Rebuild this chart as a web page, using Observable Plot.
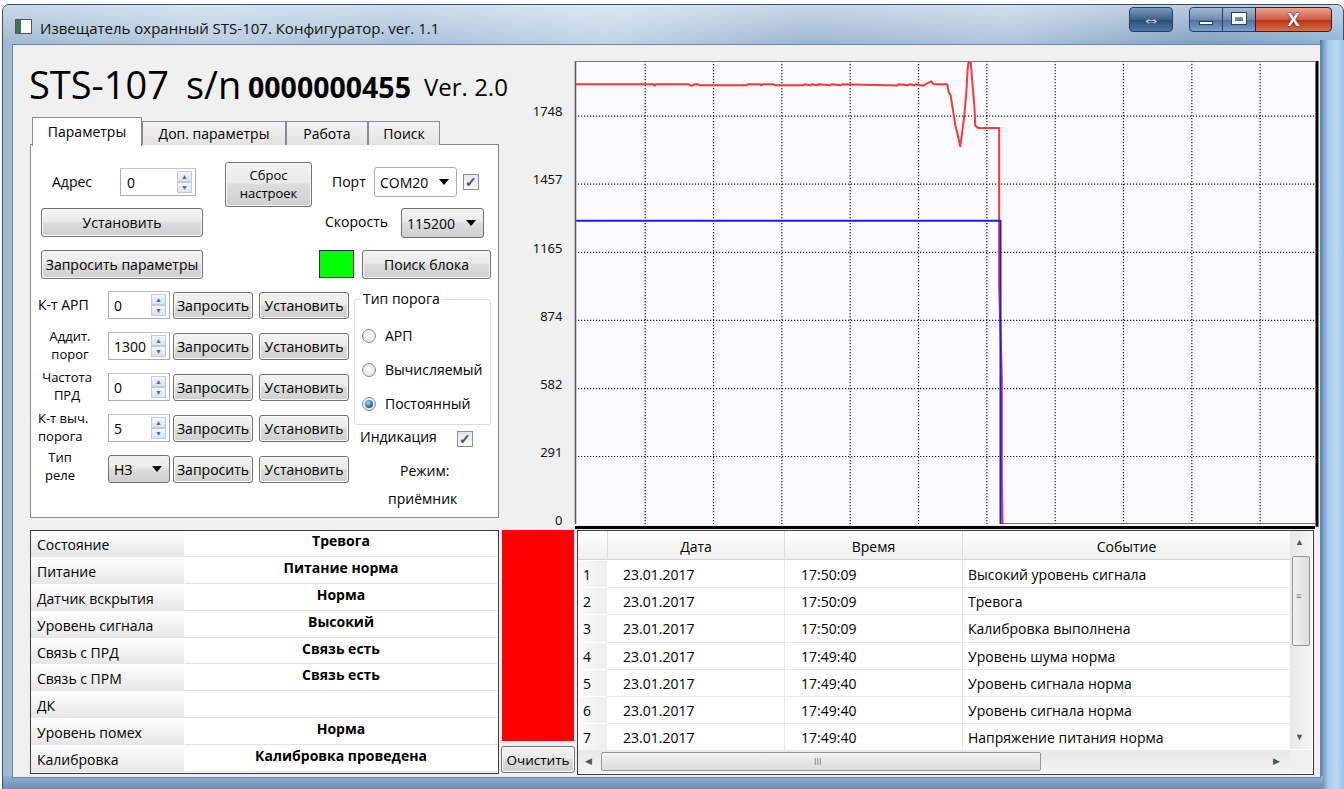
<!DOCTYPE html>
<html><head><meta charset="utf-8">
<script src="https://cdn.jsdelivr.net/npm/d3@7"></script>
<script src="https://cdn.jsdelivr.net/npm/@observablehq/plot@0.6"></script>
<style>
html,body{margin:0;padding:0;width:1344px;height:789px;overflow:hidden;background:#fff;font-family:"Open Sans","Noto Sans",sans-serif;font-size:14px;color:#000}
.a{position:absolute;box-sizing:border-box}
.t{position:absolute;white-space:nowrap;line-height:16px}
.btn{position:absolute;box-sizing:border-box;border:1px solid #707070;border-radius:3px;background:linear-gradient(#f2f2f2 0,#ebebeb 45%,#dddddd 50%,#cfcfcf 100%);box-shadow:inset 0 0 0 1px #fbfbfb;display:flex;align-items:center;justify-content:center;text-align:center;line-height:16px;white-space:nowrap;font-size:14px}
.spin{position:absolute;box-sizing:border-box;background:#fff;border:1px solid #abadb3;border-top-color:#c3c3c3;display:flex;align-items:center;padding-left:6px}
.spin .ar{position:absolute;right:3px;top:2px;bottom:2px;width:15px;display:flex;flex-direction:column}
.spin .ar div{flex:1;border:1px solid #c4cbd4;background:linear-gradient(#f4f6f9,#dde3ea);font-size:7px;color:#4a6ea8;display:flex;align-items:center;justify-content:center;line-height:7px}
.combo{position:absolute;box-sizing:border-box;border:1px solid #707070;border-radius:3px;background:linear-gradient(#f2f2f2 0,#ebebeb 45%,#dddddd 50%,#cfcfcf 100%);display:flex;align-items:center;padding-left:5px}
.combo.white{background:#fff;border-color:#abadb3}
.combo .dd{position:absolute;right:7px;top:50%;margin-top:-3px;width:0;height:0;border-left:5px solid transparent;border-right:5px solid transparent;border-top:6px solid #000}
.chk{position:absolute;box-sizing:border-box;width:16px;height:16px;border:1px solid #8e8f8f;background:linear-gradient(#e6e6e6,#fafafa);font-size:14px;line-height:13px;color:#3a5496;text-align:center;font-weight:bold}
.rad{position:absolute;box-sizing:border-box;width:14px;height:14px;border-radius:50%;border:1px solid #8e8f8f;background:radial-gradient(circle at 50% 40%,#fff,#d6d6d6)}
.rad.on::after{content:"";position:absolute;left:2px;top:2px;width:8px;height:8px;border-radius:50%;background:radial-gradient(circle at 40% 35%,#9fd8ff,#0b5d9c 70%)}
.tab{position:absolute;box-sizing:border-box;border:1px solid #898c95;border-bottom:none;background:linear-gradient(#f3f3f3,#e3e3e3);display:flex;align-items:center;justify-content:center;font-size:14px}
.cell{position:absolute;box-sizing:border-box;white-space:nowrap;overflow:hidden}
.sb{position:absolute;box-sizing:border-box;background:linear-gradient(90deg,#e8e8e8,#f4f4f4)}
.thumb{position:absolute;box-sizing:border-box;border:1px solid #979797;border-radius:2px;background:linear-gradient(90deg,#f2f2f2,#dcdcdc)}
.pl{position:absolute;white-space:nowrap;font-size:13px;line-height:17px}
</style></head>
<body>
<script>
// ===== chart data =====
const yTickLabels = [0, 291, 582, 874, 1165, 1457, 1748];
const gridXTicks = [100, 200, 300, 400, 500, 600, 700, 800, 900, 1000];
const redIdx = [0, 112, 114, 116, 164, 166, 170, 172, 178, 179, 249, 250, 268, 270, 272, 288, 289, 332, 333, 342, 344, 352, 354, 371, 373, 386, 388, 469, 471, 485, 487, 494, 496, 507, 510, 519, 522, 542, 544, 547, 550, 554, 557, 561, 564, 567, 570, 572, 575, 577, 580, 582, 583, 588, 618, 618, 622, 622, 623, 1081];
const redVal = [1885, 1885, 1878, 1885, 1885, 1879, 1879, 1885, 1885, 1880, 1880, 1885, 1885, 1879, 1885, 1885, 1880, 1880, 1885, 1880, 1885, 1880, 1885, 1880, 1885, 1880, 1885, 1879, 1885, 1880, 1885, 1880, 1885, 1878, 1885, 1897, 1885, 1885, 1851, 1837, 1781, 1708, 1674, 1619, 1679, 1751, 1851, 1952, 2010, 1958, 1851, 1781, 1708, 1697, 1697, 1018, 624, 182, 0, 0];
const blueIdx = [0, 620, 620, 1081];
const blueVal = [1300, 1300, 0, 0];

// ===== UI data =====
const statusLabels = ["Состояние", "Питание", "Датчик вскрытия", "Уровень сигнала", "Связь с ПРД", "Связь с ПРМ", "ДК", "Уровень помех", "Калибровка"];
const statusValues = ["Тревога", "Питание норма", "Норма", "Высокий", "Связь есть", "Связь есть", "", "Норма", "Калибровка проведена"];
const eventHeaders = ["Дата", "Время", "Событие"];
const eventDates = ["23.01.2017", "23.01.2017", "23.01.2017", "23.01.2017", "23.01.2017", "23.01.2017", "23.01.2017"];
const eventTimes = ["17:50:09", "17:50:09", "17:50:09", "17:49:40", "17:49:40", "17:49:40", "17:49:40"];
const eventTexts = ["Высокий уровень сигнала", "Тревога", "Калибровка выполнена", "Уровень шума норма", "Уровень сигнала норма", "Уровень сигнала норма", "Напряжение питания норма"];
const paramLabels = [["К-т АРП"], ["Аддит.", "порог"], ["Частота", "ПРД"], ["К-т выч.", "порога"], ["Тип", "реле"]];
const paramValues = ["0", "1300", "0", "5", "НЗ"];
const radioLabels = ["АРП", "Вычисляемый", "Постоянный"];
</script>

<!-- window frame -->
<div class="a" style="left:2px;top:4px;width:1342px;height:785px;border-radius:7px 7px 0 0;border:1px solid #34506e;background:linear-gradient(90deg,#9fb9d3 0,#b8cde2 15%,#a7c0da 30%,#c2d4e6 45%,#9cb6d1 60%,#aec5dd 75%,#7f9fc2 90%,#93b4d6 100%)"></div>
<div class="a" style="left:3px;top:5px;width:1340px;height:36px;border-radius:6px 6px 0 0;background:linear-gradient(180deg,rgba(255,255,255,0.45),rgba(255,255,255,0.05))"></div>
<div class="a" style="left:1320px;top:40px;width:24px;height:749px;background:linear-gradient(90deg,#4a6b92 0,#6f93bd 10%,#a9cdf0 35%,#bcd9f5 70%,#9cc0e6 100%)"></div>
<div class="a" style="left:3px;top:776px;width:1320px;height:13px;background:linear-gradient(180deg,#8fb0d2,#6d8fb6)"></div>
<!-- title -->
<div class="a" style="left:15px;top:19px;width:17px;height:15px;border:1px solid #555;background:linear-gradient(90deg,#3a7a4a 0,#3a7a4a 35%,#fff 36%)"></div>
<div class="t" style="left:40px;top:19px;font-size:15px;line-height:18px;color:#111">Извещатель охранный STS-107. Конфигуратор. ver. 1.1</div>
<div class="a" style="left:1129px;top:7px;width:44px;height:25px;border:1px solid #2b3f5c;border-radius:4px;background:linear-gradient(#7c98bd,#3f5f8a 50%,#2a4a78 51%,#4d77a8);color:#fff;font-size:18px;line-height:22px;text-align:center;font-weight:bold">⇔</div>
<div class="a" style="left:1189px;top:7px;width:34px;height:25px;border:1px solid #2b3f5c;border-radius:4px 0 0 4px;background:linear-gradient(#a5bbd6,#6d8cb3 50%,#4d6f9c 51%,#7aa0cc)"></div>
<div class="a" style="left:1199px;top:21px;width:14px;height:4px;background:#fff;border:1px solid #2b3f5c"></div>
<div class="a" style="left:1222px;top:7px;width:34px;height:25px;border:1px solid #2b3f5c;background:linear-gradient(#a5bbd6,#6d8cb3 50%,#4d6f9c 51%,#7aa0cc)"></div>
<div class="a" style="left:1232px;top:13px;width:14px;height:11px;border:3px solid #fff;border-top-width:4px;outline:1px solid #2b3f5c"></div>
<div class="a" style="left:1255px;top:7px;width:77px;height:25px;border:1px solid #4a1a10;border-radius:0 4px 4px 0;background:linear-gradient(#e8a493,#cf5d43 50%,#b8311b 51%,#d6703f);color:#fff;font-size:18px;line-height:22px;text-align:center;font-weight:bold;text-shadow:0 0 2px #400">X</div>

<!-- client area -->
<div class="a" style="left:12px;top:44px;width:1309px;height:734px;background:#f0f0f0;border:1px solid #6b84a3"></div>

<!-- big title -->
<div class="t" style="left:29px;top:60px;font-size:38px;line-height:48px">STS-107</div>
<div class="t" style="left:186px;top:60px;font-size:38px;line-height:48px">s/n</div>
<div class="t" style="left:248px;top:68px;font-size:28.5px;line-height:38px;font-weight:bold">0000000455</div>
<div class="t" style="left:424px;top:69px;font-size:24px;line-height:36px">Ver. 2.0</div>

<!-- tabs -->
<div class="a" style="left:30px;top:144px;width:469px;height:374px;background:#fff;border:1px solid #898c95"></div>
<div class="tab" style="left:142px;top:121px;width:144px;height:24px">Доп. параметры</div>
<div class="tab" style="left:286px;top:121px;width:82px;height:24px">Работа</div>
<div class="tab" style="left:368px;top:121px;width:72px;height:24px">Поиск</div>
<div class="tab" style="left:32px;top:117px;width:110px;height:29px;background:#fff;z-index:2;align-items:flex-start;padding-top:4px">Параметры</div>

<!-- top controls -->
<div class="t" style="left:52px;top:174px">Адрес</div>
<div class="spin" style="left:120px;top:168px;width:76px;height:28px">0<div class="ar"><div>▲</div><div>▼</div></div></div>
<div class="btn" style="left:225px;top:162px;width:87px;height:45px"></div>
<div class="pl" style="left:225px;top:167px;width:87px;text-align:center">Сброс</div>
<div class="pl" style="left:225px;top:185px;width:87px;text-align:center">настроек</div>
<div class="t" style="left:332px;top:174px">Порт</div>
<div class="combo white" style="left:374px;top:167px;width:83px;height:30px">COM20<div class="dd"></div></div>
<div class="chk" style="left:463px;top:174px">✓</div>
<div class="btn" style="left:41px;top:208px;width:162px;height:29px">Установить</div>
<div class="t" style="left:325px;top:214px">Скорость</div>
<div class="combo" style="left:401px;top:208px;width:83px;height:30px">115200<div class="dd"></div></div>
<div class="btn" style="left:41px;top:250px;width:162px;height:29px">Запросить параметры</div>
<div class="a" style="left:319px;top:250px;width:35px;height:28px;background:#00ff00;border:1px solid #333"></div>
<div class="btn" style="left:362px;top:250px;width:129px;height:29px">Поиск блока</div>

<!-- group box -->
<div class="a" style="left:354px;top:299px;width:137px;height:126px;border:1px solid #d5dfe5;border-radius:3px"></div>
<div class="t" style="left:361px;top:291px;background:#fff;padding:0 2px">Тип порога</div>
<div id="radios"></div>
<div class="t" style="left:360px;top:429px">Индикация</div>
<div class="chk" style="left:457px;top:431px">✓</div>
<div class="t" style="left:400px;top:463px">Режим:</div>
<div class="t" style="left:388px;top:491px">приёмник</div>

<div id="params"></div>

<!-- status table -->
<div class="a" style="left:30px;top:530px;width:469px;height:244px;border:1px solid #3b3b3b;background:#fff"></div>
<div id="status"></div>

<!-- red indicator + clear -->
<div class="a" style="left:502px;top:530px;width:72px;height:211px;background:#ff0000"></div>
<div class="btn" style="left:501px;top:746px;width:74px;height:27px;font-size:13.5px">Очистить</div>

<!-- events table -->
<div class="a" style="left:577px;top:530px;width:737px;height:245px;border:1px solid #3b3b3b;background:#fff"></div>
<div id="events"></div>

<!-- chart -->
<div id="chart" class="a" style="left:520px;top:50px;width:800px;height:480px"></div>

<script>
// radios
const rg = document.getElementById("radios");
radioLabels.forEach((r, i) => {
  const y = 336 + i * 34;
  rg.insertAdjacentHTML("beforeend", `<div class="rad${i === 2 ? " on" : ""}" style="left:362px;top:${y - 7}px"></div><div class="t" style="left:385px;top:${y - 8}px">${r}</div>`);
});
// param rows
const pr = document.getElementById("params");
const rowY = [305, 346, 387, 428, 469];
const labBox = [null, [36, 68, "center"], [36, 62, "center"], [38, 66, "left"], [38, 44, "center"]];
paramLabels.forEach((lab, i) => {
  const y = rowY[i];
  let labHtml;
  if (lab.length === 1) labHtml = `<div class="t" style="left:38px;top:${y - 8}px">${lab[0]}</div>`;
  else {
    const [l, w, al] = labBox[i];
    const off = i === 4 ? -2 : 0;
    labHtml = `<div class="pl" style="left:${l}px;top:${y - 18 + off}px;width:${w}px;text-align:${al}">${lab[0]}</div>` +
              `<div class="pl" style="left:${l}px;top:${y - 0.5 + off}px;width:${w}px;text-align:${al}">${lab[1]}</div>`;
  }
  let ctrl;
  if (i === 4) ctrl = `<div class="combo" style="left:108px;top:${y - 14}px;width:62px;height:28px">${paramValues[i]}<div class="dd"></div></div>`;
  else ctrl = `<div class="spin" style="left:108px;top:${y - 14}px;width:62px;height:28px;padding-left:5px">${paramValues[i]}<div class="ar"><div>▲</div><div>▼</div></div></div>`;
  pr.insertAdjacentHTML("beforeend", labHtml + ctrl +
    `<div class="btn" style="left:173px;top:${y - 13}px;width:80px;height:27px">Запросить</div>` +
    `<div class="btn" style="left:259px;top:${y - 13}px;width:90px;height:27px">Установить</div>`);
});
// status table
const st = document.getElementById("status");
const rh = 242 / 9;
statusLabels.forEach((lab, i) => {
  const top = 531 + i * rh;
  st.insertAdjacentHTML("beforeend",
    `<div class="cell" style="left:31px;top:${top}px;width:153px;height:${rh - 1}px;background:linear-gradient(#ffffff,#f0f0f0 60%,#e6e6e6);padding:5px 0 0 6px;line-height:18px">${lab}</div>` +
    `<div class="cell" style="left:185px;top:${top}px;width:312px;height:${rh - 1}px;border-bottom:1px solid #e2e2e2;text-align:center;font-weight:bold;padding-top:1px;line-height:18px">${statusValues[i]}</div>`);
});
// events table
const ev = document.getElementById("events");
ev.insertAdjacentHTML("beforeend",
  `<div class="cell" style="left:578px;top:531px;width:712px;height:29px;background:linear-gradient(#fff,#f7f7f7 50%,#f0f0f0);border-bottom:1px solid #d5d5d5"></div>`);
const colL = [607, 784, 962], colW = [177, 178, 328];
eventHeaders.forEach((h, j) => {
  ev.insertAdjacentHTML("beforeend", `<div class="cell" style="left:${colL[j]}px;top:531px;width:${colW[j]}px;height:29px;border-left:1px solid #dcdcdc;text-align:center;line-height:32px">${h}</div>`);
});
const erh = 27.2;
eventDates.forEach((d, i) => {
  const top = 561 + i * erh;
  ev.insertAdjacentHTML("beforeend",
    `<div class="cell" style="left:578px;top:${top}px;width:29px;height:${erh - 1}px;background:linear-gradient(90deg,#fafafa,#eeeeee);padding-left:5px;line-height:28px">${i + 1}</div>` +
    `<div class="cell" style="left:607px;top:${top}px;width:177px;height:${erh}px;border-bottom:1px solid #e8e8e8;padding-left:16px;line-height:28px">${d}</div>` +
    `<div class="cell" style="left:784px;top:${top}px;width:178px;height:${erh}px;border-bottom:1px solid #e8e8e8;border-left:1px solid #e8e8e8;padding-left:16px;line-height:28px">${eventTimes[i]}</div>` +
    `<div class="cell" style="left:962px;top:${top}px;width:328px;height:${erh}px;border-bottom:1px solid #e8e8e8;border-left:1px solid #e8e8e8;padding-left:5px;line-height:28px">${eventTexts[i]}</div>`);
});
// scrollbars
ev.insertAdjacentHTML("beforeend",
  `<div class="sb" style="left:1290px;top:531px;width:22px;height:218px"></div>` +
  `<div class="t" style="left:1295px;top:534px;font-size:9px;color:#555">▲</div>` +
  `<div class="thumb" style="left:1292px;top:556px;width:18px;height:90px"></div>` +
  `<div class="t" style="left:1296px;top:592px;font-size:9px;color:#777;line-height:8px">≡</div>` +
  `<div class="t" style="left:1295px;top:729px;font-size:9px;color:#555">▼</div>` +
  `<div class="sb" style="left:578px;top:750px;width:734px;height:23px;background:linear-gradient(#e8e8e8,#f4f4f4)"></div>` +
  `<div class="t" style="left:585px;top:753px;font-size:9px;color:#555">◀</div>` +
  `<div class="thumb" style="left:601px;top:752px;width:440px;height:19px;background:linear-gradient(#f2f2f2,#dcdcdc)"></div>` +
  `<div class="t" style="left:814px;top:754px;font-size:9px;color:#777">III</div>` +
  `<div class="t" style="left:1273px;top:753px;font-size:9px;color:#555">▶</div>` +
  `<div class="a" style="left:1290px;top:750px;width:22px;height:23px;background:#f0f0f0"></div>`);

// ===== chart =====
const red = redIdx.map((x, k) => ({x, v: redVal[k]}));
const blue = blueIdx.map((x, k) => ({x, v: blueVal[k]}));
const chart = Plot.plot({
  width: 800, height: 480,
  marginLeft: 55, marginRight: 5, marginTop: 11, marginBottom: 6,
  x: {domain: [-2, 1081], axis: null, label: null},
  y: {domain: [0, 1982], axis: null, label: null},
  style: {background: "transparent", fontFamily: "'Noto Sans', sans-serif", fontSize: "13px", color: "#111", overflow: "visible"},
  marks: [
    Plot.frame({fill: "#fafaff", stroke: null}),
    Plot.gridX(gridXTicks, {stroke: "#000", strokeOpacity: 0.9, strokeWidth: 1.2, strokeDasharray: "1.2,1.8"}),
    Plot.gridY(yTickLabels.slice(1), {stroke: "#000", strokeOpacity: 0.9, strokeWidth: 1.2, strokeDasharray: "1.2,1.8"}),
    Plot.axisY(yTickLabels, {tickSize: 0, tickPadding: 13, dy: -4, fontSize: 13, label: null, tickFormat: d => String(d)}),
    Plot.line(red, {x: "x", y: "v", stroke: "#ff3636", strokeWidth: 2, clip: true}),
    Plot.line(blue, {x: "x", y: "v", stroke: "#1a1aff", strokeWidth: 2, clip: true}),
    Plot.ruleX([-2], {stroke: "#555", strokeWidth: 1.5}),
    Plot.ruleY([1982], {stroke: "#777", strokeWidth: 1}),
    Plot.ruleX([1081], {stroke: "#000", strokeWidth: 3, dx: 1.5, y1: 1982, y2: -12}),
    Plot.ruleY([0], {stroke: "#000", strokeWidth: 3, dy: 3})
  ]
});
document.getElementById("chart").appendChild(chart);
</script>
</body></html>
